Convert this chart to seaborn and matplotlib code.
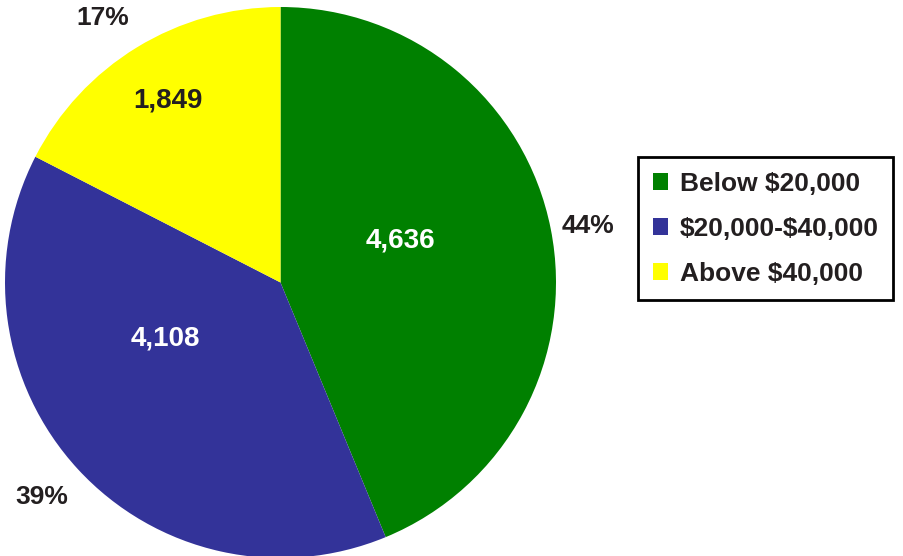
import matplotlib
matplotlib.use("Agg")
import matplotlib.pyplot as plt
import seaborn as sns

categories = ["Below $20,000", "$20,000-$40,000", "Above $40,000"]
values = [4636, 4108, 1849]
colors = ["#008000", "#333399", "#FFFF00"]

sns.set_style("white")
plt.rcParams["font.family"] = ["Liberation Sans", "DejaVu Sans"]
plt.rcParams["font.weight"] = "bold"
plt.rcParams["text.parse_math"] = False

W, H = 904, 556
fig = plt.figure(figsize=(W / 100, H / 100), dpi=100)
ax = fig.add_axes([0, 0, 1, 1])

cx, cy_px, R = 280.5, 282.5, 275.5
wedges, _ = ax.pie(values, colors=colors, startangle=90, counterclock=False,
                   center=(cx, H - cy_px), radius=R, frame=True,
                   wedgeprops=dict(linewidth=0))
ax.set_xlim(0, W)
ax.set_ylim(0, H)
ax.set_aspect("equal")
ax.axis("off")

total = sum(values)
txt = "#231f20"
value_pos = [(400, 240), (165, 338), (168, 100)]
value_col = ["white", "white", txt]
pct_pos = [(588, 226), (42, 497), (103, 18)]
for v, (x, y), c, (px, py) in zip(values, value_pos, value_col, pct_pos):
    ax.text(x, H - y, f"{v:,}", color=c, fontsize=20, fontweight="bold",
            ha="center", va="center")
    ax.text(px, H - py, f"{round(100 * v / total)}%", color=txt, fontsize=19,
            fontweight="bold", ha="center", va="center")

leg = fig.legend(wedges, categories, loc="upper left",
                 bbox_to_anchor=(638 / W, 1 - 157 / H), borderaxespad=0,
                 prop=dict(family="Liberation Sans", weight="bold", size=19),
                 handlelength=0.6, handleheight=0.6, handletextpad=0.43,
                 labelspacing=0.8, borderpad=0.55, frameon=True, fancybox=False)
for t in leg.get_texts():
    t.set_color(txt)
fr = leg.get_frame()
fr.set_edgecolor("black")
fr.set_linewidth(2)
fr.set_alpha(1)

fig.savefig("out.png", dpi=100)
